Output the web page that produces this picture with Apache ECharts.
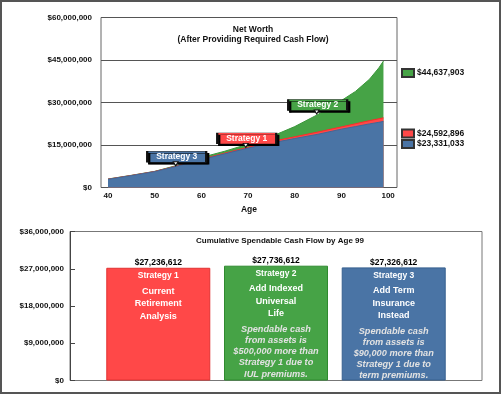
<!DOCTYPE html>
<html>
<head>
<meta charset="utf-8">
<script src="https://cdn.jsdelivr.net/npm/echarts@6/dist/echarts.min.js"></script>
<style>
  html, body { margin: 0; padding: 0; background: #fff; }
  #chart { width: 502px; height: 396px; }
</style>
</head>
<body>
<div id="chart"></div>
<script>
// net worth by age, in millions of dollars
const ages = [40, 45, 50, 55, 60, 65, 70, 75, 80, 85, 90, 93, 96, 98, 99]
const strategy2 = [3.0, 4.3, 5.7, 7.9, 10.6, 12.8, 15.3, 18.0, 21.5, 25.8, 30.7, 33.9, 38.2, 42.2, 44.637903]
const strategy1 = [2.95, 4.25, 5.65, 7.7, 10.0, 12.1, 14.2, 16.2, 17.9, 19.6, 21.4, 22.5, 23.6, 24.25, 24.592896]
const strategy3 = [2.9, 4.2, 5.6, 7.6, 9.8, 11.9, 13.9, 15.7, 17.3, 18.8, 20.6, 21.5, 22.45, 23.0, 23.331033]
const xTicks = [40, 50, 60, 70, 80, 90, 100]

// callout boxes on the area chart
const calloutNames = ['Strategy 2', 'Strategy 1', 'Strategy 3']
const calloutAges = [84.7, 69.5, 54.5]
const calloutValues = [25.6, 13.8, 7.3]

// cumulative spendable cash flow by age 99
const barNames = ['Strategy 1', 'Strategy 2', 'Strategy 3']
const barValues = [27236612, 27736612, 27326612]
const barDescriptions = [
  ['Current', 'Retirement', 'Analysis'],
  ['Add Indexed', 'Universal', 'Life'],
  ['Add Term', 'Insurance', 'Instead'],
]
const barNotes = [
  [],
  ['Spendable cash', 'from assets is', '$500,000 more than', 'Strategy 1 due to', 'IUL premiums.'],
  ['Spendable cash', 'from assets is', '$90,000 more than', 'Strategy 1 due to', 'term premiums.'],
]

const GREEN = '#46a346'
const RED = '#ff4848'
const BLUE = '#4a74a5'
const FONT = 'Arial, "Liberation Sans", sans-serif'

const money = v => '$' + Math.round(v).toLocaleString('en-US')

const areaSeries = [
  { values: strategy2, color: GREEN, line: '#3a963a' },
  { values: strategy1, color: RED, line: '#ff2a2a' },
  { values: strategy3, color: BLUE, line: '#3f6898' },
].map((s, idx) => {
  const last = s.values[s.values.length - 1]
  return {
    name: money(last * 1e6),
    type: 'line',
    xAxisIndex: 0,
    yAxisIndex: 0,
    data: ages.map((a, i) => [a, s.values[i] * 1e6]),
    symbol: 'none',
    lineStyle: { color: s.line, width: 1 },
    itemStyle: { color: s.color, borderColor: '#333', borderWidth: 1 },
    areaStyle: { color: s.color, opacity: 1 },
    z: 2 + idx,
    markPoint: {
      z: 10,
      data: [{
        name: calloutNames[idx],
        coord: [calloutAges[idx], calloutValues[idx] * 1e6],
        symbol: 'rect',
        symbolSize: [59, 11],
        symbolOffset: [1, -10],
        itemStyle: { color: s.color, borderColor: '#111', borderWidth: 1, shadowColor: '#000', shadowOffsetX: 2, shadowOffsetY: 2 },
        label: { show: true, formatter: '{b}', color: '#fff', fontWeight: 'bold', fontSize: 8.5, fontFamily: FONT },
      }, {
        name: '',
        coord: [calloutAges[idx], calloutValues[idx] * 1e6],
        symbol: 'triangle',
        symbolRotate: 180,
        symbolSize: [5, 4],
        symbolOffset: [0, -3],
        itemStyle: { color: '#fff', borderColor: '#111', borderWidth: 1 },
        label: { show: false },
      }],
    },
  }
})

const barColors = [
  { color: RED, border: '#e23232' },
  { color: GREEN, border: '#2f8a2f' },
  { color: BLUE, border: '#36608f' },
]

function barLabel(i) {
  const lines = ['{val|' + money(barValues[i]) + '}', '{head|' + barNames[i] + '}', '{gap| }']
  barDescriptions[i].forEach(t => lines.push('{desc|' + t + '}'))
  if (barNotes[i].length) {
    lines.push('{gap2| }')
    barNotes[i].forEach(t => lines.push('{note|' + t + '}'))
  }
  return lines.join('\n')
}

const chart = echarts.init(document.getElementById('chart'))
chart.setOption({
  animation: false,
  textStyle: { fontFamily: FONT },
  title: [{
    text: 'Net Worth\n(After Providing Required Cash Flow)',
    left: 248,
    top: 20,
    textAlign: 'center',
    textStyle: { fontSize: 8.5, fontWeight: 'bold', color: '#111', lineHeight: 10, fontFamily: FONT },
  }, {
    text: 'Cumulative Spendable Cash Flow by Age 99',
    left: 275,
    top: 232,
    textAlign: 'center',
    textStyle: { fontSize: 8, fontWeight: 'bold', color: '#111', fontFamily: FONT },
  }],
  legend: areaSeries.map((s, i) => ({
    data: [s.name],
    left: 401,
    top: [68, 128.5, 139][i],
    orient: 'vertical',
    padding: 0,
    itemWidth: 12,
    itemHeight: 8,
    itemGap: 0,
    selectedMode: false,
    icon: 'rect',
    textStyle: { fontSize: 8.5, fontWeight: 'bold', color: '#111', padding: [0, 0, 0, -2] },
  })),
  grid: [
    { left: 101, top: 17.5, right: 105, height: 170, show: true, borderColor: '#666', borderWidth: 1 },
    { left: 70, top: 231.5, right: 20, height: 149, show: true, borderColor: '#777', borderWidth: 1 },
  ],
  xAxis: [{
    gridIndex: 0,
    type: 'value',
    min: 38.5,
    max: 101.9,
    name: 'Age',
    nameLocation: 'middle',
    nameGap: 18,
    nameTextStyle: { fontSize: 8.5, fontWeight: 'bold', color: '#111' },
    axisLine: { show: false },
    axisTick: { show: false },
    splitLine: { show: false },
    axisLabel: { customValues: xTicks, fontSize: 8, fontWeight: 'bold', color: '#111', margin: 4 },
  }, {
    gridIndex: 1,
    type: 'value',
    min: 0.25,
    max: 3.75,
    show: false,
  }],
  yAxis: [{
    gridIndex: 0,
    type: 'value',
    min: 0,
    max: 60e6,
    interval: 15e6,
    axisLine: { show: false },
    axisTick: { show: false },
    splitLine: { lineStyle: { color: '#555', width: 1 } },
    axisLabel: { formatter: money, fontSize: 8, fontWeight: 'bold', color: '#111', margin: 9 },
  }, {
    gridIndex: 1,
    type: 'value',
    min: 0,
    max: 36e6,
    interval: 9e6,
    axisLine: { show: true, lineStyle: { color: '#444' } },
    axisTick: { show: true, inside: true, length: 5, lineStyle: { color: '#444' } },
    splitLine: { show: false },
    axisLabel: { formatter: money, fontSize: 8, fontWeight: 'bold', color: '#111', margin: 6 },
  }],
  series: [...areaSeries, {
    type: 'bar',
    xAxisIndex: 1,
    yAxisIndex: 1,
    barWidth: 104,
    data: barValues.map((v, i) => ({
      value: [i + 1, v],
      itemStyle: { color: barColors[i].color, borderColor: barColors[i].border, borderWidth: 1 },
      label: { formatter: barLabel(i) },
    })),
    label: {
      show: true,
      position: ['50%', -11],
      align: 'center',
      verticalAlign: 'top',
      rich: {
        val: { color: '#000', fontWeight: 'bold', fontSize: 8.5, lineHeight: 12, align: 'center' },
        head: { color: '#fff', fontWeight: 'bold', fontSize: 8.5, lineHeight: 14, align: 'center' },
        gap: { fontSize: 1, lineHeight: 2 },
        desc: { color: '#fff', fontWeight: 'bold', fontSize: 9, lineHeight: 12.5, align: 'center' },
        gap2: { fontSize: 1, lineHeight: 3.5 },
        note: { color: '#e2e2e2', fontWeight: 'bold', fontStyle: 'italic', fontSize: 9.2, lineHeight: 11.2, align: 'center' },
      },
    },
  }],
  graphic: [{
    type: 'rect',
    shape: { x: 1, y: 1, width: 499, height: 392 },
    style: { fill: 'none', stroke: '#555', lineWidth: 2 },
    silent: true,
  }],
})
</script>
</body>
</html>
